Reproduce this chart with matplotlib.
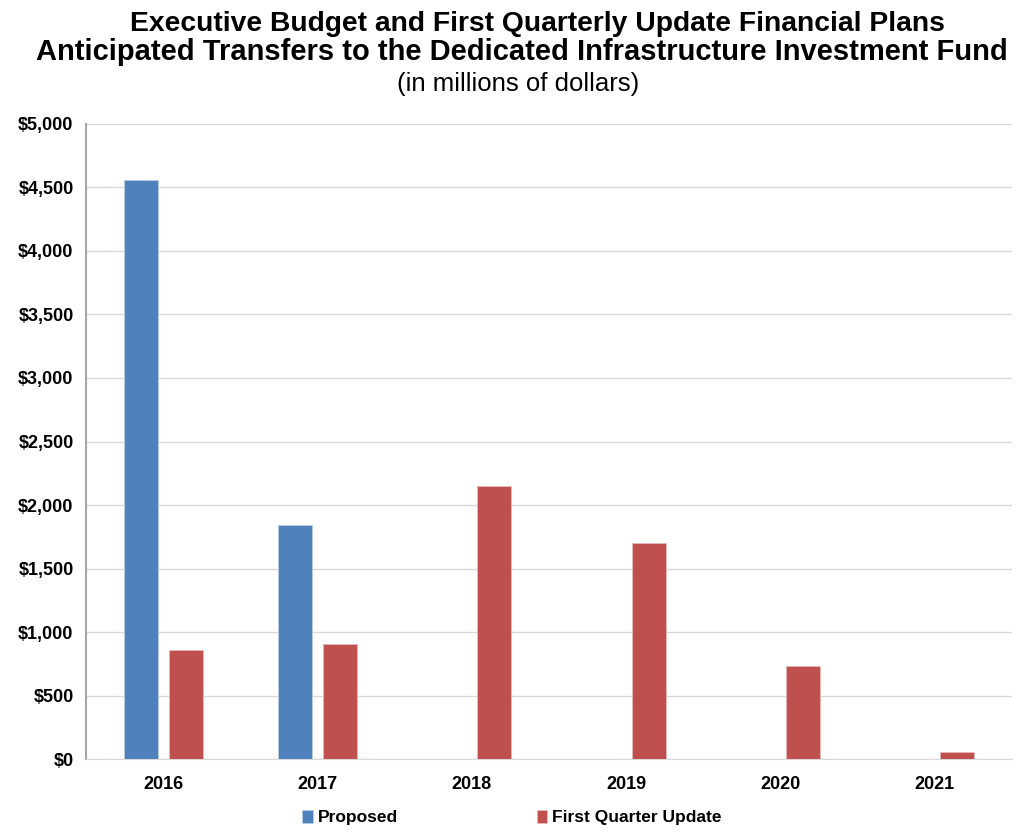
import numpy as np
import matplotlib
matplotlib.use('Agg')
import matplotlib.pyplot as plt

# data (millions of dollars)
years = ['2016', '2017', '2018', '2019', '2020', '2021']
proposed = [4555, 1840, 0, 0, 0, 0]
first_quarter = [858, 905, 2150, 1700, 735, 52]
yticks = [0, 500, 1000, 1500, 2000, 2500, 3000, 3500, 4000, 4500, 5000]

plt.rcParams['font.family'] = ['Liberation Sans', 'DejaVu Sans']

fig = plt.figure(figsize=(10.29, 8.32), dpi=100)
ax = fig.add_axes([0.0836, 0.0877, 0.8999, 0.7633])

x = np.arange(len(years))
w = 0.22
# only draw proposed bars where a value exists
px = [i for i, v in zip(x, proposed) if v > 0]
pv = [v for v in proposed if v > 0]
ax.bar(np.array(px) - 0.145, pv, w, color='#4F81BD', edgecolor='#B9CDE5', linewidth=0.6, label='Proposed', zorder=3)
ax.bar(x + 0.145, first_quarter, w, color='#C0504D', edgecolor='#E6B9B8', linewidth=0.6, label='First Quarter Update', zorder=3)

ax.set_xlim(-0.5, len(years) - 0.5)
ax.set_ylim(0, 5000)
ax.set_yticks(yticks)
ax.set_yticklabels(['$' + format(t, ',') for t in yticks], fontsize=13, fontweight='bold')
ax.set_xticks(x)
ax.set_xticklabels(years, fontsize=13, fontweight='bold')
ax.tick_params(length=0, pad=9)
ax.tick_params(axis='x', pad=12)
ax.grid(axis='y', color='#D9D9D9', linewidth=1, zorder=0)
for s in ['top', 'right']:
    ax.spines[s].set_visible(False)
ax.spines['left'].set_color('#A6A6A6')
ax.spines['bottom'].set_color('#D9D9D9')
ax.spines['left'].set_linewidth(1.5)

fig.text(0.522, 0.971, 'Executive Budget and First Quarterly Update Financial Plans',
         ha='center', va='center', fontsize=20.3, fontweight='bold')
fig.text(0.507, 0.938, 'Anticipated Transfers to the Dedicated Infrastructure Investment Fund',
         ha='center', va='center', fontsize=21, fontweight='bold')
fig.text(0.504, 0.899, '(in millions of dollars)', ha='center', va='center', fontsize=18.5)

ax.legend(loc='upper center', bbox_to_anchor=(0.46, -0.055), ncol=2, frameon=False,
          prop={'size': 12.5, 'weight': 'bold'}, handlelength=0.6, handleheight=0.8,
          handletextpad=0.3, columnspacing=8)

fig.savefig('out.png', dpi=100)
